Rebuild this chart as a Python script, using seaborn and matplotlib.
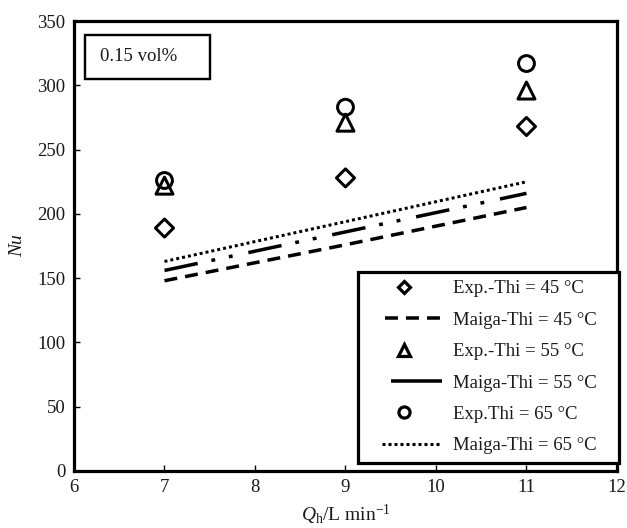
import numpy as np
import pandas as pd
import matplotlib
matplotlib.use("Agg")
import matplotlib.pyplot as plt
from matplotlib.lines import Line2D
from matplotlib.patches import Rectangle
from matplotlib.legend_handler import HandlerLine2D
import seaborn as sns

sns.set_theme(style="white")
plt.rcParams["font.family"] = ["Liberation Serif", "DejaVu Serif"]
plt.rcParams["mathtext.fontset"] = "custom"
plt.rcParams["mathtext.rm"] = "Liberation Serif"
plt.rcParams["mathtext.it"] = "Liberation Serif:italic"

# Flow rate (L/min)
flow = [7, 9, 11]

# Experimental Nusselt numbers
exp_45 = [189, 228, 268]
exp_55 = [222, 271, 296]
exp_65 = [226, 283, 317]

# Maiga correlation predictions
maiga_45 = [148, 176, 205]
maiga_55 = [156, 186, 216]
maiga_65 = [163, 194, 225]

legend_labels = ["Exp.-Thi = 45 °C", "Maiga-Thi = 45 °C",
                 "Exp.-Thi = 55 °C", "Maiga-Thi = 55 °C",
                 "Exp.Thi = 65 °C", "Maiga-Thi = 65 °C"]

PX = 72 / 100  # points per pixel at 100 dpi
TXT = "#1a1a1a"

fig = plt.figure(figsize=(6.27, 5.28), dpi=100)
ax = fig.add_axes([0.118, 0.108, 0.866, 0.852])

lw = 3.5 * PX
dash_45 = (3.7, 2.3)
dash_55 = (9.7, 4.0, 1.1, 4.0, 1.1, 4.6)
dot_lw = 3.0 * PX
dash_65 = (1, 1)

# Correlation lines
sns.lineplot(x=flow, y=maiga_45, ax=ax, color="black", lw=lw)
l45 = ax.lines[-1]
l45.set_dashes(dash_45)
l45.set_dash_capstyle("butt")
sns.lineplot(x=flow, y=maiga_55, ax=ax, color="black", lw=lw)
l55 = ax.lines[-1]
l55.set_dashes(dash_55)
l55.set_dash_capstyle("butt")
sns.lineplot(x=flow, y=maiga_65, ax=ax, color="black", lw=dot_lw)
l65 = ax.lines[-1]
l65.set_dashes(dash_65)
l65.set_dash_capstyle("butt")

# Experimental points
mew = 3.0 * PX
sns.scatterplot(x=flow, y=exp_45, ax=ax, marker="D", s=85, facecolor="none",
                edgecolor="black", linewidth=mew, zorder=3)
sns.scatterplot(x=flow, y=exp_55, ax=ax, marker="^", s=150, facecolor="none",
                edgecolor="black", linewidth=mew, zorder=3)
sns.scatterplot(x=flow, y=exp_65, ax=ax, marker="o", s=130, facecolor="none",
                edgecolor="black", linewidth=mew, zorder=3)

ax.set_xlim(6, 12)
ax.set_ylim(0, 350)
ax.set_xticks(range(6, 13))
ax.set_yticks(range(0, 351, 50))

for s in ax.spines.values():
    s.set_visible(True)
    s.set_color("black")
    s.set_linewidth(3.2 * PX)

ax.tick_params(axis="both", which="major", direction="in", length=4, width=1,
               color="black", labelsize=13.5, labelcolor=TXT, pad=6,
               bottom=True, left=True)

ax.set_xlabel(r"$\mathit{Q}_{\mathrm{h}}$/L min$^{-1}$", fontsize=14, labelpad=5,
              color=TXT)
ax.set_ylabel("Nu", fontsize=14, style="italic", labelpad=8, color=TXT)

# Concentration tag
ax.add_patch(Rectangle((0.020, 0.871), 0.230, 0.098, transform=ax.transAxes,
                       facecolor="white", edgecolor="black", lw=2.4 * PX,
                       zorder=4))
ax.text(0.048, 0.921, "0.15 vol%", transform=ax.transAxes, fontsize=13.5,
        va="center", ha="left", color=TXT, zorder=5)

handles = [
    Line2D([], [], marker="D", ls="none", mfc="white", mec="black", mew=3.2 * PX, ms=6.5),
    Line2D([], [], color="black", lw=lw, dashes=dash_45, dash_capstyle="butt"),
    Line2D([], [], marker="^", ls="none", mfc="white", mec="black", mew=3.2 * PX, ms=8.5),
    Line2D([], [], color="black", lw=lw, solid_capstyle="butt"),
    Line2D([], [], marker="o", ls="none", mfc="white", mec="black", mew=3.2 * PX, ms=8),
    Line2D([], [], color="black", lw=dot_lw, dashes=dash_65, dash_capstyle="butt"),
]
handler_map = {
    handles[1]: HandlerLine2D(xpad=1.0),
    handles[3]: HandlerLine2D(xpad=1.3),
    handles[5]: HandlerLine2D(xpad=0.8),
}
leg = ax.legend(handles, legend_labels, loc="lower left",
                bbox_to_anchor=(0.523, 0.018, 0.480, 0.42), mode="expand",
                borderaxespad=0, fontsize=13.5, frameon=True, fancybox=False,
                handlelength=4.0, handletextpad=0.6, labelspacing=0.76,
                borderpad=0.46, handler_map=handler_map)
frame = leg.get_frame()
frame.set_edgecolor("black")
frame.set_linewidth(3.2 * PX)
frame.set_facecolor("white")
frame.set_alpha(1)
for t in leg.get_texts():
    t.set_color(TXT)

fig.savefig("out.png", dpi=100)
